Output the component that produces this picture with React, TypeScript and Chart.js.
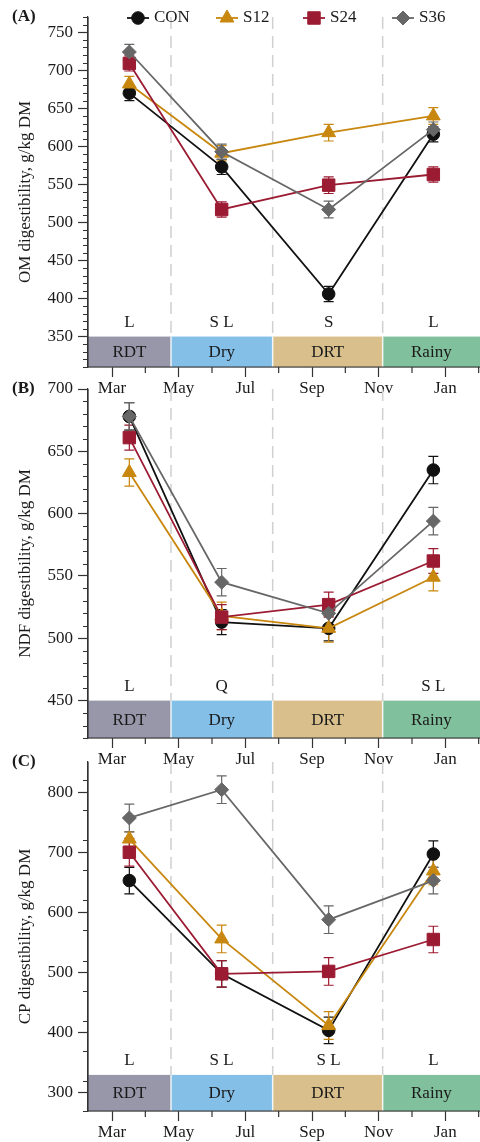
import React, { useEffect, useRef } from 'react';
import { Chart, registerables } from 'chart.js';
import { drawPoint } from 'chart.js/helpers';

Chart.register(...registerables);

// ---- shared axes / categories ----
const seriesNames = ['CON', 'S12', 'S24', 'S36'];
const sampleMonths = [0.52, 3.29, 6.5, 9.64]; // months after 1 March
const monthNames = ['Mar', 'Apr', 'May', 'Jun', 'Jul', 'Aug', 'Sep', 'Oct', 'Nov', 'Dec', 'Jan', 'Feb'];
const monthTicks = [0, 1, 2, 3, 4, 5, 6, 7, 8, 9, 10, 11];
const seasonNames = ['RDT', 'Dry', 'DRT', 'Rainy'];
const seasonBreaks = [1.77, 4.82, 8.12];

// ---- (A) OM digestibility ----
const omCON = [670, 573, 406, 616];
const omS12 = [682, 591, 618, 640];
const omS24 = [709, 517, 549, 563];
const omS36 = [724, 593, 517, 622];
const omErrCON = [10, 10, 10, 10];
const omErrS12 = [10, 10, 11, 11];
const omErrS24 = [10, 10, 11, 10];
const omErrS36 = [10, 10, 11, 10];
const omTicks = [350, 400, 450, 500, 550, 600, 650, 700, 750];
const omLetters = ['L', 'S L', 'S', 'L'];

// ---- (B) NDF digestibility ----
const ndfCON = [678, 513, 508, 635];
const ndfS12 = [633, 518, 508, 549];
const ndfS24 = [661, 517, 527, 562];
const ndfS36 = [678, 545, 520, 594];
const ndfErrCON = [11, 10, 10, 11];
const ndfErrS12 = [11, 11, 11, 11];
const ndfErrS24 = [10, 10, 10, 10];
const ndfErrS36 = [11, 11, 10, 11];
const ndfTicks = [450, 500, 550, 600, 650, 700];
const ndfLetters = ['L', 'Q', '', 'S L'];

// ---- (C) CP digestibility ----
const cpCON = [653, 498, 404, 697];
const cpS12 = [722, 556, 412, 669];
const cpS24 = [700, 498, 502, 555];
const cpS36 = [757, 804, 588, 653];
const cpErrCON = [22, 22, 22, 22];
const cpErrS12 = [12, 23, 23, 23];
const cpErrS24 = [23, 22, 23, 22];
const cpErrS36 = [23, 23, 23, 22];
const cpTicks = [300, 400, 500, 600, 700, 800];
const cpLetters = ['L', 'S L', 'S L', 'L'];

// ---- styling ----
const FONT_FAMILY = "'Liberation Serif', 'Times New Roman', serif";
const FONT_SIZE = 17;
const TEXT = '#1a1a1a';
const AXIS = '#333333';
const seriesColors = ['#111111', '#c8870f', '#9b1b32', '#676767'];
const pointStyles = ['circle', 'triangle', 'rect', 'rectRot'];
const pointRadii = [6.3, 8, 8.8, 7];
const seasonColors = ['#9897aa', '#84bfe8', '#d9bf8c', '#80c09c'];

const CANVAS_W = 480;
const CANVAS_H = 397;
const PLOT_TOP = 17;
const Y_AXIS_W = 88;

type PanelProps = {
  top: number;
  plotHeight: number;
  tag: string;
  title: string;
  values: number[][];
  errors: number[][];
  yMin: number;
  yMax: number;
  yTicks: number[];
  yMinorStep: number;
  bandTop: number;
  letters: string[];
  showLegend?: boolean;
};

function Panel(p: PanelProps) {
  const ref = useRef<HTMLCanvasElement>(null);

  useEffect(() => {
    const font = { family: FONT_FAMILY, size: FONT_SIZE };
    const cssFont = `${FONT_SIZE}px ${FONT_FAMILY}`;

    const decor = {
      id: 'decor',
      beforeDatasetsDraw(chart: any) {
        const { ctx, chartArea, scales } = chart;
        const xs = scales.x;
        const ys = scales.y;
        const bandY = ys.getPixelForValue(p.bandTop);
        ctx.save();

        // season boundaries
        ctx.strokeStyle = '#d0d0d0';
        ctx.lineWidth = 1.5;
        ctx.setLineDash([12, 7]);
        seasonBreaks.forEach((b) => {
          const x = xs.getPixelForValue(b);
          ctx.beginPath();
          ctx.moveTo(x, chartArea.top);
          ctx.lineTo(x, chartArea.bottom);
          ctx.stroke();
        });
        ctx.setLineDash([]);

        // season band along the bottom of the plot
        seasonNames.forEach((name, i) => {
          const x0 = i === 0 ? chartArea.left : xs.getPixelForValue(seasonBreaks[i - 1]);
          const x1 = i === seasonNames.length - 1 ? chartArea.right : xs.getPixelForValue(seasonBreaks[i]);
          ctx.fillStyle = seasonColors[i];
          ctx.fillRect(x0, bandY, x1 - x0, chartArea.bottom - bandY);
          ctx.fillStyle = TEXT;
          ctx.font = cssFont;
          ctx.textAlign = 'center';
          ctx.textBaseline = 'middle';
          ctx.fillText(name, (x0 + x1) / 2, (bandY + chartArea.bottom) / 2 + 1);
        });
        ctx.strokeStyle = 'rgba(255,255,255,0.85)';
        ctx.lineWidth = 1.5;
        seasonBreaks.forEach((b) => {
          const x = xs.getPixelForValue(b);
          ctx.beginPath();
          ctx.moveTo(x, bandY);
          ctx.lineTo(x, chartArea.bottom);
          ctx.stroke();
        });

        // significance letters
        ctx.fillStyle = TEXT;
        ctx.font = cssFont;
        ctx.textAlign = 'center';
        ctx.textBaseline = 'middle';
        p.letters.forEach((t, i) => {
          if (t) ctx.fillText(t, xs.getPixelForValue(sampleMonths[i]), bandY - 14.5);
        });

        // error bars
        ctx.lineWidth = 1.2;
        p.values.forEach((vals, s) => {
          ctx.strokeStyle = seriesColors[s];
          vals.forEach((v, j) => {
            const x = xs.getPixelForValue(sampleMonths[j]);
            const yHi = ys.getPixelForValue(v + p.errors[s][j]);
            const yLo = ys.getPixelForValue(v - p.errors[s][j]);
            ctx.beginPath();
            ctx.moveTo(x, yHi);
            ctx.lineTo(x, yLo);
            ctx.moveTo(x - 5, yHi);
            ctx.lineTo(x + 5, yHi);
            ctx.moveTo(x - 5, yLo);
            ctx.lineTo(x + 5, yLo);
            ctx.stroke();
          });
        });
        ctx.restore();
      },
      afterDraw(chart: any) {
        const { ctx, chartArea, scales } = chart;
        const xs = scales.x;
        const ys = scales.y;
        ctx.save();
        ctx.strokeStyle = AXIS;
        ctx.lineWidth = 1.2;

        // axis lines
        ctx.beginPath();
        ctx.moveTo(chartArea.left, chartArea.top);
        ctx.lineTo(chartArea.left, chartArea.bottom);
        ctx.lineTo(chartArea.right, chartArea.bottom);
        ctx.stroke();

        // minor ticks
        ctx.beginPath();
        for (let v = p.yMin; v <= p.yMax + 1e-6; v += p.yMinorStep) {
          if (p.yTicks.includes(v)) continue;
          const y = Math.round(ys.getPixelForValue(v)) + 0.5;
          ctx.moveTo(chartArea.left - 5, y);
          ctx.lineTo(chartArea.left, y);
        }
        monthTicks.forEach((m) => {
          if (m % 2 === 0) return;
          const x = xs.getPixelForValue(m);
          ctx.moveTo(x, chartArea.bottom);
          ctx.lineTo(x, chartArea.bottom + 6);
        });
        ctx.stroke();

        // panel tag
        ctx.fillStyle = TEXT;
        ctx.font = `bold ${FONT_SIZE}px ${FONT_FAMILY}`;
        ctx.textAlign = 'left';
        ctx.textBaseline = 'middle';
        ctx.fillText(p.tag, 12, PLOT_TOP);

        // legend
        if (p.showLegend) {
          const centers = [138, 227, 314, 403];
          ctx.font = cssFont;
          seriesNames.forEach((name, i) => {
            const cx = centers[i];
            const cy = PLOT_TOP + 1;
            ctx.strokeStyle = seriesColors[i];
            ctx.fillStyle = seriesColors[i];
            ctx.lineWidth = 1.8;
            ctx.beginPath();
            ctx.moveTo(cx - 11, cy);
            ctx.lineTo(cx + 11, cy);
            ctx.stroke();
            ctx.lineWidth = 1;
            drawPoint(ctx, { pointStyle: pointStyles[i], radius: pointRadii[i], rotation: 0, borderWidth: 1 } as any, cx, cy);
            ctx.fillStyle = TEXT;
            ctx.fillText(name, cx + 16, cy);
          });
        }
        ctx.restore();
      },
    };

    const datasets = seriesNames.map((name, s) => ({
      label: name,
      data: sampleMonths.map((m, j) => ({ x: m, y: p.values[s][j] })),
      borderColor: seriesColors[s],
      backgroundColor: seriesColors[s],
      pointBackgroundColor: seriesColors[s],
      pointBorderColor: seriesColors[s],
      pointBorderWidth: 1,
      pointStyle: pointStyles[s],
      pointRadius: pointRadii[s],
      borderWidth: 1.8,
      tension: 0,
      fill: false,
      order: seriesNames.length - s,
    }));

    const xAxisH = CANVAS_H - PLOT_TOP - p.plotHeight;

    const chart = new Chart(ref.current as HTMLCanvasElement, {
      type: 'line',
      data: { datasets } as any,
      options: {
        responsive: false,
        animation: false,
        devicePixelRatio: 1,
        events: [],
        layout: { autoPadding: false, padding: { top: PLOT_TOP, left: 0, right: 0, bottom: 0 } },
        plugins: { legend: { display: false }, tooltip: { enabled: false } },
        scales: {
          x: {
            type: 'linear',
            min: -0.72,
            max: 11.04,
            afterBuildTicks: (s: any) => {
              s.ticks = monthTicks.map((v) => ({ value: v }));
            },
            afterFit: (s: any) => {
              s.height = xAxisH;
              s.paddingLeft = 0;
              s.paddingRight = 0;
            },
            ticks: {
              autoSkip: false,
              maxRotation: 0,
              padding: 1,
              color: TEXT,
              font,
              callback: (v: any) => (Number(v) % 2 === 0 ? monthNames[Number(v)] : ''),
            },
            grid: {
              display: true,
              drawOnChartArea: false,
              drawTicks: true,
              tickLength: 10,
              tickWidth: 1.2,
              tickColor: (c: any) => (c.tick && c.tick.value % 2 === 0 ? AXIS : 'rgba(0,0,0,0)'),
            },
            border: { display: true, color: AXIS, width: 1.2 },
          },
          y: {
            type: 'linear',
            min: p.yMin,
            max: p.yMax,
            afterBuildTicks: (s: any) => {
              s.ticks = p.yTicks.map((v) => ({ value: v }));
            },
            afterFit: (s: any) => {
              s.width = Y_AXIS_W;
              s.paddingTop = 0;
              s.paddingBottom = 0;
            },
            ticks: { padding: 5, color: TEXT, font, callback: (v: any) => String(v) },
            grid: {
              display: true,
              drawOnChartArea: false,
              drawTicks: true,
              tickLength: 10,
              tickWidth: 1.2,
              tickColor: AXIS,
            },
            border: { display: true, color: AXIS, width: 1.2 },
            title: {
              display: true,
              text: p.title,
              color: TEXT,
              font,
              padding: { top: 15, bottom: 0 },
            },
          },
        },
      } as any,
      plugins: [decor],
    });

    return () => chart.destroy();
  }, []);

  return (
    <canvas
      ref={ref}
      width={CANVAS_W}
      height={CANVAS_H}
      style={{ position: 'absolute', left: 0, top: p.top, width: CANVAS_W, height: CANVAS_H }}
    />
  );
}

export default function App() {
  return (
    <div
      style={{
        position: 'absolute',
        left: 0,
        top: 0,
        width: 480,
        height: 1142,
        overflow: 'hidden',
        background: '#ffffff',
      }}
    >
      <Panel
        top={0}
        plotHeight={350}
        tag="(A)"
        title="OM digestibility, g/kg DM"
        values={[omCON, omS12, omS24, omS36]}
        errors={[omErrCON, omErrS12, omErrS24, omErrS36]}
        yMin={310}
        yMax={770}
        yTicks={omTicks}
        yMinorStep={10}
        bandTop={350}
        letters={omLetters}
        showLegend
      />
      <Panel
        top={372}
        plotHeight={349}
        tag="(B)"
        title="NDF digestibility, g/kg DM"
        values={[ndfCON, ndfS12, ndfS24, ndfS36]}
        errors={[ndfErrCON, ndfErrS12, ndfErrS24, ndfErrS36]}
        yMin={420}
        yMax={700}
        yTicks={ndfTicks}
        yMinorStep={10}
        bandTop={450}
        letters={ndfLetters}
      />
      <Panel
        top={745}
        plotHeight={349}
        tag="(C)"
        title="CP digestibility, g/kg DM"
        values={[cpCON, cpS12, cpS24, cpS36]}
        errors={[cpErrCON, cpErrS12, cpErrS24, cpErrS36]}
        yMin={270}
        yMax={850}
        yTicks={cpTicks}
        yMinorStep={50}
        bandTop={330}
        letters={cpLetters}
      />
    </div>
  );
}
